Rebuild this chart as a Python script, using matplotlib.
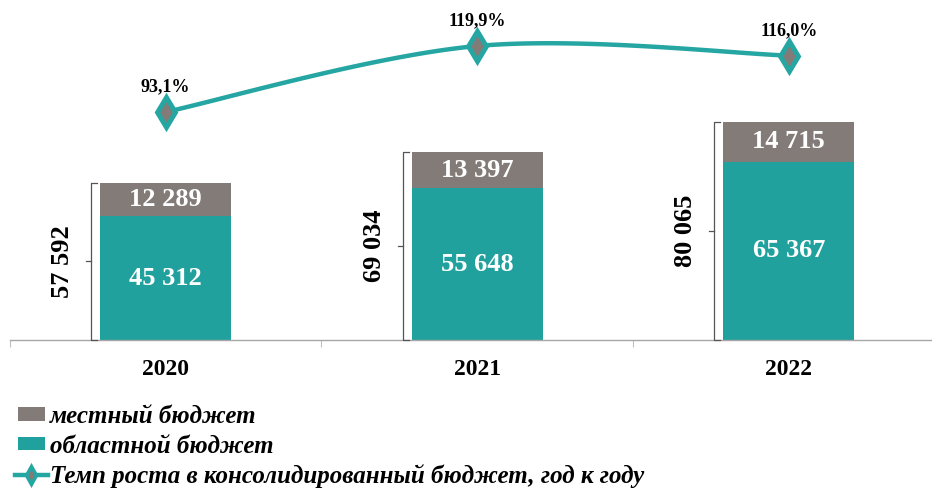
import matplotlib.pyplot as plt
from matplotlib.lines import Line2D
from matplotlib.patches import Patch, Rectangle
from matplotlib.legend_handler import HandlerPatch
import numpy as np

years = ['2020', '2021', '2022']
regional = [45312, 55648, 65367]
local = [12289, 13397, 14715]
totals = [57592, 69034, 80065]
growth = [93.1, 119.9, 116.0]

TEAL = '#20a19e'
GREY = '#827b77'
LINE = '#25a6a2'


def fmt(v):
    return f'{v:,}'.replace(',', ' ')


def smooth(xs, ys, n=40):
    # Catmull-Rom smoothing, like the "smoothed line" option in office charts
    px = [xs[0]] + list(xs) + [xs[-1]]
    py = [ys[0]] + list(ys) + [ys[-1]]
    outx, outy = [], []
    t = np.linspace(0, 1, n)
    for i in range(1, len(px) - 2):
        p0 = np.array([px[i], py[i]])
        p3 = np.array([px[i + 1], py[i + 1]])
        c1 = p0 + (np.array([px[i + 1], py[i + 1]]) - np.array([px[i - 1], py[i - 1]])) / 6
        c2 = p3 - (np.array([px[i + 2], py[i + 2]]) - np.array([px[i], py[i]])) / 6
        b = ((1 - t) ** 3)[:, None] * p0 + (3 * (1 - t) ** 2 * t)[:, None] * c1 \
            + (3 * (1 - t) * t ** 2)[:, None] * c2 + (t ** 3)[:, None] * p3
        outx += list(b[:, 0])
        outy += list(b[:, 1])
    return outx, outy


def narrow_patch(legend, orig_handle, xdescent, ydescent, width, height, fontsize):
    return Rectangle((-xdescent + 0.1 * width, -ydescent), 0.82 * width, height)


plt.rcParams['font.family'] = ['Liberation Serif', 'DejaVu Serif']

fig = plt.figure(figsize=(9.32, 4.9), dpi=100)
ax = fig.add_axes([10 / 932, 150 / 490, 922 / 932, 340 / 490])

x = np.arange(len(years))
w = 0.42
ax.bar(x, regional, width=w, color=TEAL, zorder=2)
ax.bar(x, local, width=w, bottom=regional, color=GREY, zorder=2)

ax.set_xlim(-0.5, 2.46)
ax.set_ylim(0, 124700)

for i in range(len(years)):
    ax.text(x[i], regional[i] / 2, fmt(regional[i]), ha='center', va='center',
            color='white', fontsize=19, fontweight='bold')
    ax.text(x[i], regional[i] + local[i] / 2, fmt(local[i]), ha='center', va='center',
            color='white', fontsize=19, fontweight='bold')
    # bracket with total
    bx = x[i] - w / 2 - 0.029
    hx = x[i] - w / 2 - 0.010
    ax.plot([hx, bx, bx, hx], [totals[i], totals[i], 0, 0], color='#555555', lw=0.9,
            solid_joinstyle='round', clip_on=False, zorder=3)
    ax.plot([bx - 0.016, bx], [totals[i] / 2, totals[i] / 2], color='#555555', lw=0.9, zorder=3)
    ax.text(x[i] - 0.33, totals[i] / 2, fmt(totals[i]), ha='center', va='center',
            rotation=90, fontsize=19, fontweight='bold', color='black')

for s in ['top', 'right', 'left']:
    ax.spines[s].set_visible(False)
ax.spines['bottom'].set_color('#a6a6a6')
ax.spines['bottom'].set_linewidth(1.0)
ax.set_yticks([])
ax.set_xticks([-0.5, 0.5, 1.5])
ax.set_xticklabels([])
ax.tick_params(axis='x', which='major', length=5, color='#c0c0c0', width=0.8)
ax.set_xticks(x, minor=True)
ax.set_xticklabels(years, minor=True, fontsize=17, fontweight='bold')
ax.tick_params(axis='x', which='minor', length=0, pad=14)

ax2 = ax.twinx()
ax2.set_ylim(0.4, 138.6)
ax2.axis('off')
sx, sy = smooth(x, growth)
ax2.plot(sx, sy, color=LINE, lw=3.2, solid_capstyle='round', zorder=4)
ax2.plot(x, growth, ls='none', marker='d', markersize=15, markerfacecolor=GREY,
         markeredgecolor=LINE, markeredgewidth=3.5, zorder=5)
for i in range(len(years)):
    ax2.annotate(f'{growth[i]:.1f}%'.replace('.', ','), (x[i], growth[i]),
                 xytext=(0, 12), textcoords='offset points', ha='center', va='bottom',
                 fontsize=13, fontweight='bold')

handles = [
    Patch(facecolor=GREY, edgecolor='none'),
    Patch(facecolor=TEAL, edgecolor='none'),
    Line2D([0], [0], color=LINE, lw=3.2, marker='d', markersize=9,
           markerfacecolor=GREY, markeredgecolor=LINE, markeredgewidth=2.5),
]
labels = ['местный бюджет', 'областной бюджет',
          'Темп роста в консолидированный бюджет, год к году']
fig.legend(handles, labels, loc='upper left', bbox_to_anchor=(15 / 932, 1 - 405 / 490),
           frameon=False, prop={'size': 18, 'weight': 'bold', 'style': 'italic'},
           handlelength=1.3, handleheight=0.45, handletextpad=0.1, labelspacing=0.26,
           borderaxespad=0, borderpad=0,
           handler_map={Patch: HandlerPatch(patch_func=narrow_patch)})

fig.savefig('out.png', dpi=100)
